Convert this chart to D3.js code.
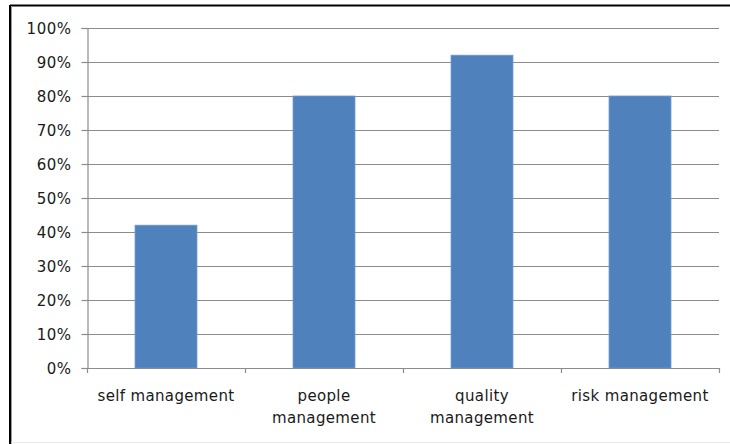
<!DOCTYPE html>
<html>
<head>
<meta charset="utf-8">
<script src="https://cdn.jsdelivr.net/npm/d3@7/dist/d3.min.js"></script>
<style>
  html, body { margin: 0; padding: 0; background: #ffffff; }
  svg { display: block; }
  text { font-family: "DejaVu Sans", Verdana, sans-serif; fill: #1a1a1a; }
</style>
</head>
<body>
<svg id="chart" width="730" height="444"></svg>
<script>
const categories = [["self management"], ["people", "management"], ["quality", "management"], ["risk management"]];
const values = [0.42, 0.80, 0.92, 0.80];
const yTicks = [0, 0.1, 0.2, 0.3, 0.4, 0.5, 0.6, 0.7, 0.8, 0.9, 1.0];

const svg = d3.select("#chart");
const W = 730, H = 444;
const plot = { left: 87, right: 719, top: 28, bottom: 368 };

svg.append("rect").attr("x", 0).attr("y", 0).attr("width", W).attr("height", H).attr("fill", "#fff");

// frame
svg.append("line").attr("x1", 10).attr("x2", W).attr("y1", 5.5).attr("y2", 5.5)
  .attr("stroke", "#000").attr("stroke-width", 2);
svg.append("line").attr("x1", 10).attr("x2", 10).attr("y1", 5).attr("y2", H)
  .attr("stroke", "#000").attr("stroke-width", 2);
svg.append("line").attr("x1", 11.5).attr("x2", 11.5).attr("y1", 6).attr("y2", H)
  .attr("stroke", "#9a9a9a").attr("stroke-width", 1);
svg.append("line").attr("x1", 11).attr("x2", W).attr("y1", 442.5).attr("y2", 442.5)
  .attr("stroke", "#e6e6e6").attr("stroke-width", 1);

const idx = categories.map((c, i) => i);
const x = d3.scaleBand().domain(idx).range([plot.left, plot.right]).paddingInner(0.608).paddingOuter(0.304);
const xOuter = d3.scaleBand().domain(idx).range([plot.left, plot.right]);
const y = d3.scaleLinear().domain([0, 1]).range([plot.bottom, plot.top]);

// gridlines
svg.append("g").selectAll("line").data(yTicks.filter(t => t > 0)).join("line")
  .attr("x1", plot.left).attr("x2", plot.right)
  .attr("y1", d => Math.round(y(d)) + 0.5).attr("y2", d => Math.round(y(d)) + 0.5)
  .attr("stroke", "#8c8c8c").attr("stroke-width", 1.2);

// bars
svg.append("g").selectAll("rect").data(values).join("rect")
  .attr("x", (d, i) => x(i)).attr("width", x.bandwidth())
  .attr("y", d => y(d)).attr("height", d => y(0) - y(d))
  .attr("fill", "#4f81bd").attr("stroke", "#6d98cc").attr("stroke-width", 0.8);

// y axis
const yAxis = d3.axisLeft(y).tickValues(yTicks).tickFormat(d3.format(".0%")).tickSize(6).tickPadding(10);
const gy = svg.append("g").attr("transform", `translate(${plot.left + 0.5},0)`).call(yAxis);
gy.select(".domain").attr("stroke", "#8c8c8c").attr("stroke-width", 1.2);
gy.selectAll(".tick line").attr("stroke", "#8c8c8c").attr("stroke-width", 1.2);
gy.selectAll(".tick text").attr("font-size", "15px").attr("fill", "#1a1a1a")
  .attr("letter-spacing", "0.5px")
  .attr("font-family", '"DejaVu Sans", Verdana, sans-serif').attr("dy", "0.35em");

// x axis
const boundaries = idx.map(i => xOuter(i)).concat([plot.right]);
const gx = svg.append("g");
gx.append("line").attr("x1", plot.left).attr("x2", plot.right)
  .attr("y1", plot.bottom + 0.5).attr("y2", plot.bottom + 0.5)
  .attr("stroke", "#8c8c8c").attr("stroke-width", 1.2);
gx.selectAll("line.tk").data(boundaries).join("line").attr("class", "tk")
  .attr("x1", d => Math.round(d) + 0.5).attr("x2", d => Math.round(d) + 0.5)
  .attr("y1", plot.bottom).attr("y2", plot.bottom + 5)
  .attr("stroke", "#8c8c8c").attr("stroke-width", 1.2);

const labels = gx.selectAll("text.cat").data(categories).join("text").attr("class", "cat")
  .attr("text-anchor", "middle").attr("font-size", "15px").attr("letter-spacing", "0.35px")
  .attr("x", (d, i) => xOuter(i) + xOuter.bandwidth() / 2);
labels.each(function(d) {
  const t = d3.select(this);
  d.forEach((line, j) => {
    t.append("tspan").attr("x", t.attr("x")).attr("y", 401 + j * 22).text(line);
  });
});
</script>
</body>
</html>
